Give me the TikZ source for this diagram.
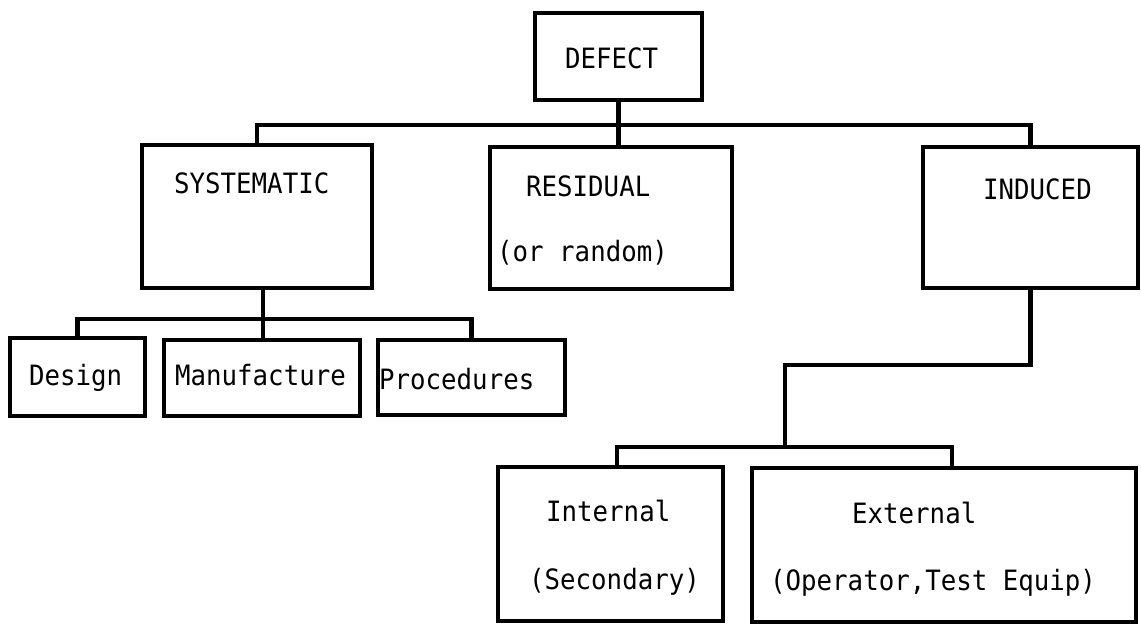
\documentclass[tikz,border=0pt]{standalone}
\usepackage{fontspec}
\newfontfamily\typewriter[FakeStretch=0.92]{DejaVu Sans Mono}
\begin{document}
\begin{tikzpicture}[x=1pt,y=-1pt,
  box/.style={draw, line width=4.5pt, inner sep=0pt},
  lbl/.style={anchor=base west, inner sep=0pt, font=\typewriter\fontsize{28}{28}\selectfont},
  wire/.style={line width=4.5pt, line cap=rect}]
\fill[white] (0,0) rectangle (1141,636);
\useasboundingbox (0,0) rectangle (1141,636);

% boxes
\node[box, minimum width=167pt, minimum height=87pt]  (defect)      at (618.5,56.5) {};
\node[box, minimum width=230pt, minimum height=143pt] (systematic)  at (257,216.5) {};
\node[box, minimum width=242pt, minimum height=142pt] (residual)    at (611,218) {};
\node[box, minimum width=215pt, minimum height=141pt] (induced)     at (1030.5,217.5) {};
\node[box, minimum width=135pt, minimum height=78pt]  (design)      at (77.5,377) {};
\node[box, minimum width=196pt, minimum height=76pt]  (manufacture) at (262,378) {};
\node[box, minimum width=187pt, minimum height=75pt]  (procedures)  at (471.5,377.5) {};
\node[box, minimum width=225pt, minimum height=154pt] (internal)    at (610.5,544) {};
\node[box, minimum width=384pt, minimum height=154pt] (external)    at (944,545) {};

% labels
\node[lbl] (tdefect)     at (565,69)  {DEFECT};
\node[lbl] (tsystematic) at (174,194) {SYSTEMATIC};
\node[lbl] (tresidual)   at (526,197) {RESIDUAL};
\node[lbl] (trandom)     at (497,262) {(or random)};
\node[lbl] (tinduced)    at (983,200) {INDUCED};
\node[lbl] (tdesign)     at (29,385)  {Design};
\node[lbl] (tmanuf)      at (175,385) {Manufacture};
\node[lbl] (tproc)       at (379,389) {Procedures};
\node[lbl] (tinternal)   at (546,521) {Internal};
\node[lbl] (tsecondary)  at (529,589) {(Secondary)};
\node[lbl] (texternal)   at (852,523) {External};
\node[lbl] (toperator)   at (770,590) {(Operator,Test Equip)};

% top level
\coordinate (bus1) at (618,125);
\draw[wire] (systematic.north) |- (bus1) -| (induced.north);
\draw[wire] (defect.south) -- (defect.south |- residual.north);

% systematic branch
\coordinate (bus2) at (263,319);
\draw[wire] (design.north) |- (bus2) -| (procedures.north);
\draw[wire] (bus2 |- systematic.south) -- (bus2 |- manufacture.north);

% induced branch
\coordinate (elbow) at (785,365);
\coordinate (bus3) at (785,447);
\draw[wire] (induced.south) |- (elbow) -- (bus3);
\coordinate (tapA) at (617,447);
\coordinate (tapB) at (952,447);
\draw[wire] (tapA |- internal.north) -- (tapA) -- (tapB) -- (tapB |- external.north);
\end{tikzpicture}
\end{document}
